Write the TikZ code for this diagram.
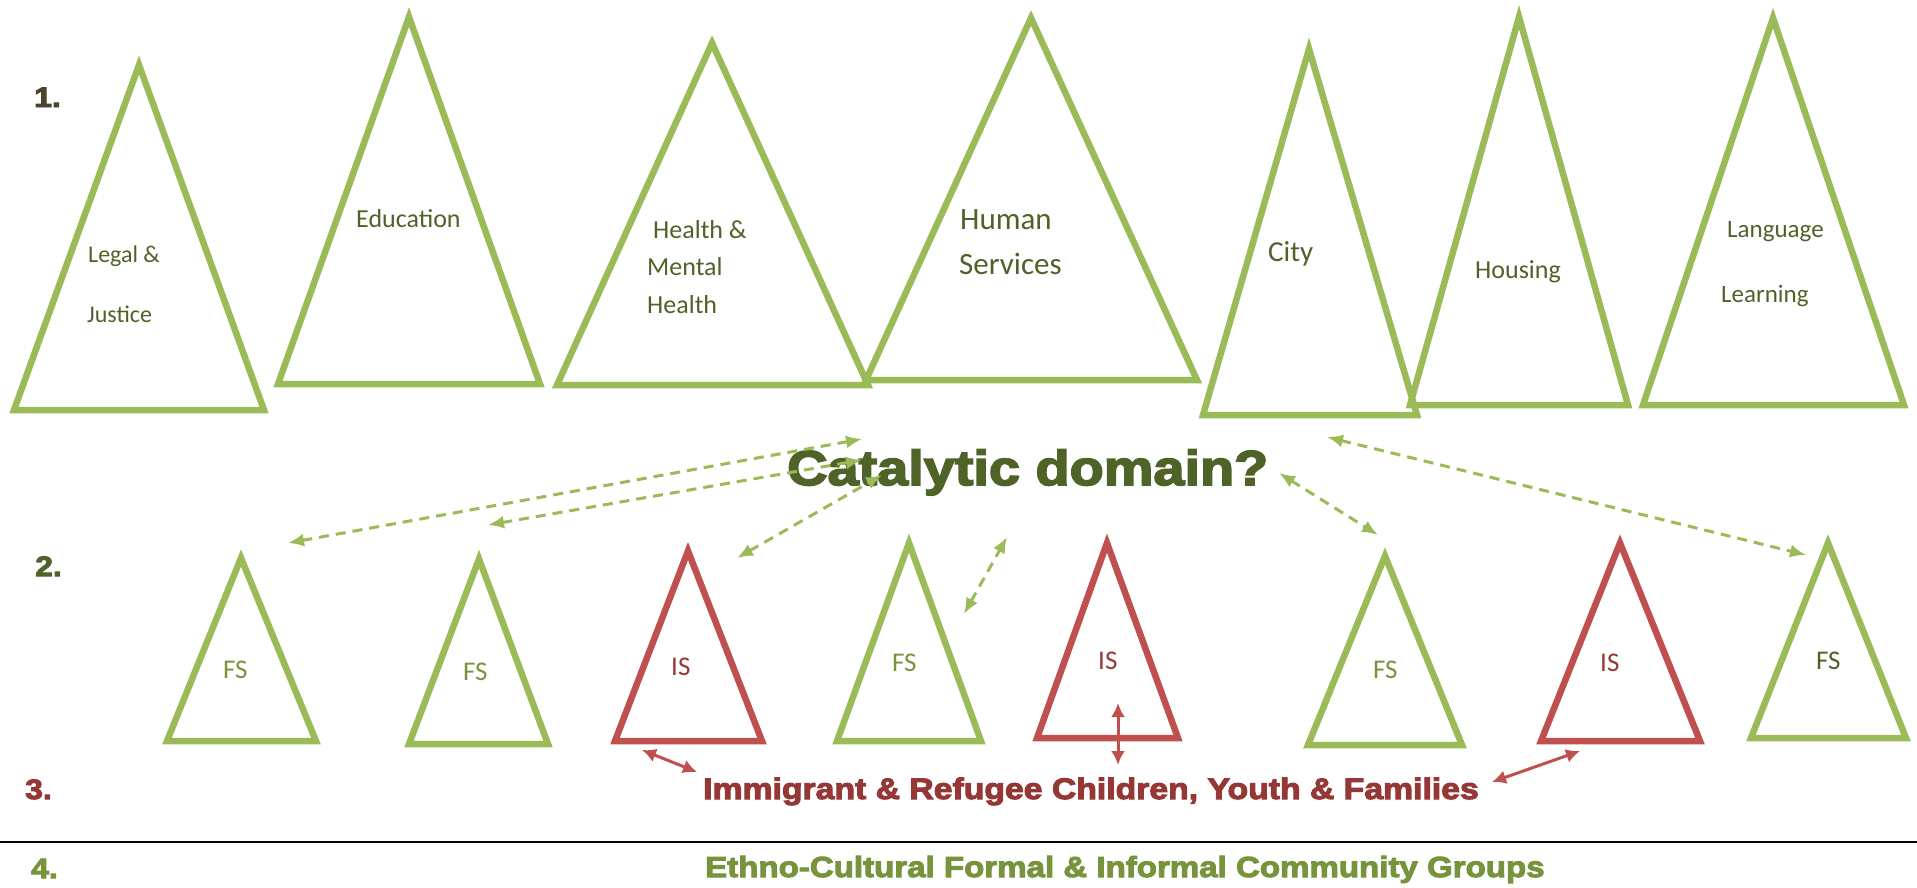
\documentclass[tikz,border=0pt]{standalone}
\usepackage{fontspec}
\setmainfont{Carlito}
\newfontfamily\heavyfont{Liberation Sans}[BoldFeatures={FakeBold=3.5}, FakeStretch=1.14]
\usetikzlibrary{arrows.meta}
\definecolor{trigreen}{HTML}{9BBB59}
\definecolor{trired}{HTML}{C0504D}
\definecolor{olivetext}{HTML}{4F6228}
\definecolor{grouptext}{HTML}{77933C}
\definecolor{redtext}{HTML}{953735}
\definecolor{numbrown}{HTML}{4A442A}

\begin{document}
\begin{tikzpicture}[x=1pt,y=-1pt,
	domaintri/.style={draw=trigreen, line width=6.5pt},
	fstri/.style={draw=trigreen, line width=6.5pt},
	istri/.style={draw=trired, line width=6.5pt},
	lbl/.style={anchor=base west, inner sep=0pt, text=olivetext},
	heavy/.style={anchor=base west, inner sep=0pt},
	link/.style={{Latex[length=16pt,width=13pt]}-{Latex[length=16pt,width=13pt]}, trigreen, line width=3pt, dash pattern=on 10pt off 7pt},
	tie/.style={{Latex[length=14pt,width=14pt]}-{Latex[length=14pt,width=14pt]}, trired, line width=3pt}]
	\useasboundingbox (0,0) rectangle (1917,887);
	% level 1: the domains
	\draw[domaintri] (139,65) -- (264,410) -- (14,410) -- cycle;
	\draw[domaintri] (409,17) -- (540,384) -- (278,384) -- cycle;
	\draw[domaintri] (712,43) -- (868,385) -- (557,385) -- cycle;
	\draw[domaintri] (1031,18) -- (1197,380) -- (866,380) -- cycle;
	\draw[domaintri] (1309,49) -- (1417,415) -- (1203,415) -- cycle;
	\draw[domaintri] (1519,17) -- (1628,405) -- (1410,405) -- cycle;
	\draw[domaintri] (1773,18) -- (1904,405) -- (1643,405) -- cycle;
	\node[lbl, font=\fontsize{24}{28}\selectfont] (legal) at (88,262) {Legal \&};
	\node[lbl, font=\fontsize{24}{28}\selectfont] (justice) at (87,322) {Justice};
	\node[lbl, font=\fontsize{26}{30}\selectfont] (education) at (356,227) {Education};
	\node[lbl, font=\fontsize{26}{30}\selectfont] (health) at (653,238) {Health \&};
	\node[lbl, font=\fontsize{26}{30}\selectfont] (mental) at (647,275) {Mental};
	\node[lbl, font=\fontsize{26}{30}\selectfont] (mhealth) at (647,313) {Health};
	\node[lbl, font=\fontsize{31}{36}\selectfont] (human) at (960,229) {Human};
	\node[lbl, font=\fontsize{31}{36}\selectfont] (services) at (959,274) {Services};
	\node[lbl, font=\fontsize{29}{34}\selectfont] (city) at (1268,261) {City};
	\node[lbl, font=\fontsize{26}{30}\selectfont] (housing) at (1475,278) {Housing};
	\node[lbl, font=\fontsize{25}{30}\selectfont] (language) at (1727,237) {Language};
	\node[lbl, font=\fontsize{25}{30}\selectfont] (learning) at (1721,302) {Learning};
	% level 2: formal and informal supports
	\draw[fstri] (241,558) -- (316,741) -- (167,741) -- cycle;
	\draw[fstri] (479,559) -- (548,744) -- (409,744) -- cycle;
	\draw[istri] (688,551) -- (762,741) -- (615,741) -- cycle;
	\draw[fstri] (909,543) -- (981,741) -- (837,741) -- cycle;
	\draw[istri] (1107,543) -- (1178,738) -- (1037,738) -- cycle;
	\draw[fstri] (1385,556) -- (1462,745) -- (1308,745) -- cycle;
	\draw[istri] (1620,543) -- (1700,741) -- (1541,741) -- cycle;
	\draw[fstri] (1828,543) -- (1906,738) -- (1751,738) -- cycle;
	\node[lbl, text=grouptext, font=\fontsize{27}{32}\selectfont] (fs1) at (223,678) {FS};
	\node[lbl, text=grouptext, font=\fontsize{27}{32}\selectfont] (fs2) at (463,680) {FS};
	\node[lbl, text=redtext, font=\fontsize{27}{32}\selectfont] (is1) at (671,675) {IS};
	\node[lbl, text=grouptext, font=\fontsize{27}{32}\selectfont] (fs3) at (892,671) {FS};
	\node[lbl, text=redtext, font=\fontsize{27}{32}\selectfont] (is2) at (1098,669) {IS};
	\node[lbl, text=grouptext, font=\fontsize{27}{32}\selectfont] (fs4) at (1373,678) {FS};
	\node[lbl, text=redtext, font=\fontsize{27}{32}\selectfont] (is3) at (1600,671) {IS};
	\node[lbl, font=\fontsize{27}{32}\selectfont] (fs5) at (1816,669) {FS};
	% headings and numbers
	\node[heavy, text=olivetext, font=\heavyfont\bfseries\fontsize{49}{56}\selectfont] (catalytic) at (787,485) {Catalytic domain?};
	\node[heavy, text=redtext, font=\heavyfont\bfseries\fontsize{29.6}{34}\selectfont] (families) at (703,799) {Immigrant \& Refugee Children, Youth \& Families};
	\node[heavy, text=grouptext, font=\heavyfont\bfseries\fontsize{29}{34}\selectfont] (groups) at (705,877) {Ethno-Cultural Formal \& Informal Community Groups};
	\node[heavy, text=numbrown, font=\heavyfont\bfseries\fontsize{28}{32}\selectfont] (one) at (34,107) {1.};
	\node[heavy, text=olivetext, font=\heavyfont\bfseries\fontsize{28}{32}\selectfont] (two) at (35,576) {2.};
	\node[heavy, text=redtext, font=\heavyfont\bfseries\fontsize{28}{32}\selectfont] (three) at (25,799) {3.};
	\node[heavy, text=grouptext, font=\heavyfont\bfseries\fontsize{28}{32}\selectfont] (four) at (31,878) {4.};
	\draw[line width=2pt] (0,842) -- (1917,842);
	% links
	\coordinate (fs1end) at (288,543);
	\coordinate (fs2end) at (488,525);
	\coordinate (is1end) at (737,558);
	\coordinate (fs3end) at (964,614);
	\coordinate (fs3top) at (1007,537);
	\coordinate (fs4end) at (1378,535);
	\coordinate (fs5end) at (1806,555);
	\coordinate (catA) at (862,439);
	\coordinate (catB) at (862,460);
	\coordinate (catC) at (882,475);
	\coordinate (catD) at (1279,473);
	\coordinate (cityend) at (1327,437);
	\draw[link] (fs1end) -- (catA);
	\draw[link] (fs2end) -- (catB);
	\draw[link] (is1end) -- (catC);
	\draw[link] (fs3end) -- (fs3top);
	\draw[link] (catD) -- (fs4end);
	\draw[link] (cityend) -- (fs5end);
	\coordinate (is1foot) at (642,750);
	\coordinate (famA) at (697,772);
	\coordinate (is2in) at (1118,703);
	\coordinate (famB) at (1118,765);
	\coordinate (famC) at (1492,782);
	\coordinate (is3foot) at (1580,751);
	\draw[tie] (is1foot) -- (famA);
	\draw[tie] (is2in) -- (famB);
	\draw[tie] (famC) -- (is3foot);
\end{tikzpicture}
\end{document}
